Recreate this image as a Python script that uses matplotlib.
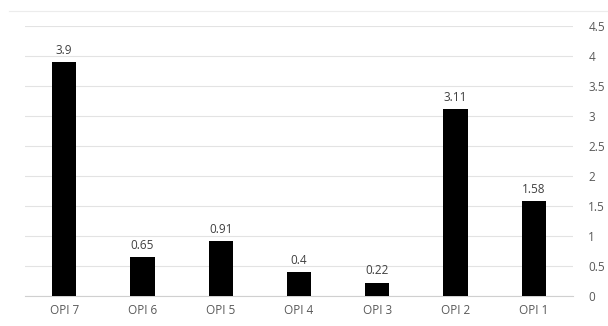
import matplotlib.pyplot as plt
from matplotlib.lines import Line2D

# values
categories = ['OPI 7', 'OPI 6', 'OPI 5', 'OPI 4', 'OPI 3', 'OPI 2', 'OPI 1']
values = [3.9, 0.65, 0.91, 0.4, 0.22, 3.11, 1.58]
yticks = [0, 0.5, 1, 1.5, 2, 2.5, 3, 3.5, 4, 4.5]
ytick_labels = ['0', '0.5', '1', '1.5', '2', '2.5', '3', '3.5', '4', '4.5']

plt.rcParams['font.family'] = ['Open Sans', 'DejaVu Sans']

fig = plt.figure(figsize=(6.08, 3.26), dpi=100)
ax = fig.add_axes([25 / 608, 30 / 326, 548 / 608, 270 / 326])

x = range(len(categories))
bars = ax.bar(x, values, width=0.31, color='black', zorder=3)
for b, v in zip(bars, values):
    ax.text(b.get_x() + b.get_width() / 2, v + 0.09, f'{v:g}',
            ha='center', va='bottom', fontsize=8.5, color='#404040')

ax.set_xlim(-0.5, len(categories) - 0.5)
ax.set_ylim(0, 4.5)
ax.set_xticks(list(x))
ax.set_xticklabels(categories, fontsize=8.5, color='#595959')
ax.yaxis.tick_right()
ax.set_yticks(yticks)
ax.set_yticklabels(ytick_labels, fontsize=8.5, color='#595959')
ax.tick_params(axis='both', length=0)
ax.tick_params(axis='y', pad=11)
ax.tick_params(axis='x', pad=6)

ax.grid(axis='y', color='#e3e3e3', linewidth=0.8, zorder=0)
for s in ['top', 'left', 'right']:
    ax.spines[s].set_visible(False)
ax.spines['bottom'].set_color('#d0d0d0')

# faint frame line at the top of the chart area
fig.add_artist(Line2D([9 / 608, 1], [1 - 11 / 326, 1 - 11 / 326],
                      color='#ececec', linewidth=0.8))

fig.savefig('out.png', dpi=100)
